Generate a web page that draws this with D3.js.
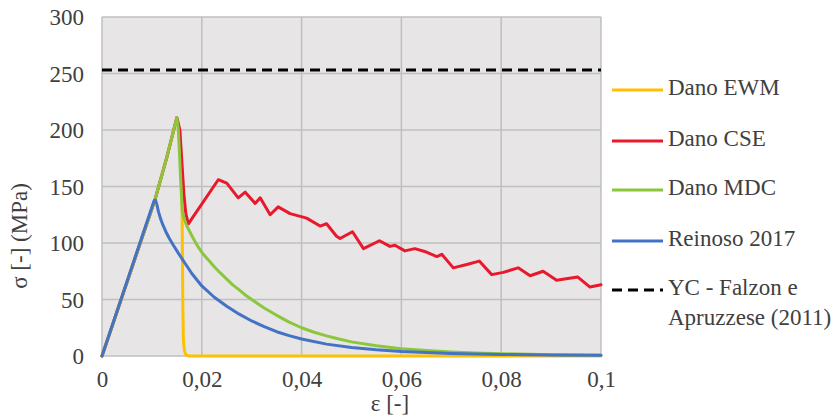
<!DOCTYPE html>
<html>
<head>
<meta charset="utf-8">
<script src="https://cdn.jsdelivr.net/npm/d3@7"></script>
<style>
  html, body { margin: 0; padding: 0; background: #fff; }
  svg { display: block; }
</style>
</head>
<body>
<svg id="stressStrain" width="839" height="419"></svg>
<script>
// Strain [-] / stress [MPa] pairs for each damage model
const ewmStrain = [0, 0.0106, 0.013, 0.015, 0.0156, 0.0160, 0.0161, 0.0162, 0.0163, 0.0165, 0.0168, 0.0175, 0.1];
const ewmStress = [0, 138, 176, 211, 198, 160, 100, 45, 15, 5, 1, 0, 0];

const cseStrain = [0, 0.0106, 0.013, 0.015, 0.0156, 0.0164, 0.0168, 0.0173, 0.0233, 0.025, 0.0273, 0.0287, 0.0307, 0.0317, 0.0337, 0.0353, 0.0377, 0.041, 0.0437, 0.045, 0.047, 0.0477, 0.0502, 0.0524, 0.0556, 0.0577, 0.0587, 0.0607, 0.0627, 0.065, 0.0671, 0.0681, 0.0704, 0.0731, 0.0756, 0.0781, 0.0804, 0.0834, 0.0858, 0.0884, 0.0911, 0.0953, 0.0978, 0.1];
const cseStress = [0, 138, 176, 211, 200, 144, 126, 117, 156, 153, 140, 145, 135, 140, 125, 132, 126, 122, 115, 117, 106, 104, 110, 95, 102, 97, 98, 93, 95, 92, 88, 90, 78, 81, 84, 72, 74, 78, 71, 75, 67, 70, 61, 63];

const mdcStrain = [0, 0.0106, 0.013, 0.015, 0.0153, 0.0155, 0.0158, 0.0161, 0.0165, 0.017, 0.0176, 0.0183, 0.0192, 0.0203, 0.0215, 0.0225, 0.0237, 0.025, 0.0262, 0.0275, 0.0287, 0.03, 0.0325, 0.035, 0.0375, 0.04, 0.0425, 0.045, 0.0475, 0.05, 0.055, 0.06, 0.065, 0.07, 0.075, 0.08, 0.09, 0.1];
const mdcStress = [0, 138, 176, 211, 200, 182, 153, 128, 121, 115, 110, 104, 97, 90, 84, 79, 73.5, 68, 63, 58.5, 54, 50, 42.5, 36, 30, 25, 21, 17.8, 15, 12.5, 9, 6.5, 4.8, 3.5, 2.6, 2, 1.2, 0.7];

const reinosoStrain = [0, 0.0104, 0.0107, 0.011, 0.0113, 0.0117, 0.0122, 0.0128, 0.0135, 0.0143, 0.0153, 0.0165, 0.018, 0.02, 0.0225, 0.025, 0.0275, 0.03, 0.0325, 0.035, 0.0375, 0.04, 0.045, 0.05, 0.055, 0.06, 0.07, 0.08, 0.09, 0.1];
const reinosoStress = [0, 137, 138, 134, 128, 122, 116, 110, 104, 98, 91, 83, 73, 62, 52, 44, 37, 31, 26, 21.5, 18, 15, 10.5, 7.5, 5.5, 4, 2.3, 1.4, 0.9, 0.6];

const ycStress = 253;

const xTicks = [0, 0.02, 0.04, 0.06, 0.08, 0.1];
const xTickLabels = ["0", "0,02", "0,04", "0,06", "0,08", "0,1"];
const yTicks = [0, 50, 100, 150, 200, 250, 300];

const seriesNames = ["Dano EWM", "Dano CSE", "Dano MDC", "Reinoso 2017"];
const seriesColors = ["#FFC000", "#E8192C", "#8CC63F", "#4472C4"];
const ycName = ["YC - Falzon e", "Apruzzese (2011)"];

const FONT = "Liberation Serif";
const TEXT_COLOR = "#404040";
const FONT_SIZE = 23;

// serif labels, set inline on every text element
function serif(sel) {
  return sel
    .attr("font-family", FONT)
    .attr("font-size", FONT_SIZE)
    .attr("fill", TEXT_COLOR)
    .style("font-family", FONT, "important")
    .style("font-size", FONT_SIZE + "px", "important");
}

const svg = d3.select("#stressStrain");
const plot = { left: 102, right: 601, top: 17, bottom: 356 };

const x = d3.scaleLinear().domain([0, 0.1]).range([plot.left, plot.right]);
const y = d3.scaleLinear().domain([0, 300]).range([plot.bottom, plot.top]);

// plot area
svg.append("rect")
  .attr("x", plot.left).attr("y", plot.top)
  .attr("width", plot.right - plot.left).attr("height", plot.bottom - plot.top)
  .attr("fill", "#E7E5E6");

// gridlines
const grid = svg.append("g").attr("stroke", "#BFBFBF").attr("stroke-width", 1.5);
yTicks.forEach(t => grid.append("line")
  .attr("x1", plot.left).attr("x2", plot.right)
  .attr("y1", y(t)).attr("y2", y(t)));
xTicks.forEach(t => grid.append("line")
  .attr("x1", x(t)).attr("x2", x(t))
  .attr("y1", plot.top).attr("y2", plot.bottom));

// axes
const yAxis = svg.append("g")
  .attr("transform", `translate(${plot.left - 18},0)`)
  .call(d3.axisLeft(y).tickValues(yTicks).tickSize(0).tickPadding(0));
yAxis.attr("font-family", FONT).attr("font-size", FONT_SIZE);
yAxis.select(".domain").remove();
serif(yAxis.selectAll("text")).attr("dy", "0.33em");

const xAxis = svg.append("g")
  .attr("transform", `translate(0,${plot.bottom + 14})`)
  .call(d3.axisBottom(x).tickValues(xTicks).tickFormat((d, i) => xTickLabels[i]).tickSize(0).tickPadding(0));
xAxis.attr("font-family", FONT).attr("font-size", FONT_SIZE);
xAxis.select(".domain").remove();
serif(xAxis.selectAll("text")).attr("dy", "0.75em");

// axis titles
serif(svg.append("text"))
  .attr("x", 390).attr("y", 406)
  .attr("text-anchor", "middle").attr("dominant-baseline", "middle")
  .text("ε [-]");
serif(svg.append("text"))
  .attr("transform", "translate(22,236) rotate(-90)")
  .attr("text-anchor", "middle").attr("dominant-baseline", "middle")
  .text("σ [-] (MPa)");

// series lines
const seriesData = [
  d3.zip(ewmStrain, ewmStress),
  d3.zip(cseStrain, cseStress),
  d3.zip(mdcStrain, mdcStress),
  d3.zip(reinosoStrain, reinosoStress)
];

const lines = svg.append("g").attr("fill", "none").attr("stroke-width", 3)
  .attr("stroke-linejoin", "round").attr("stroke-linecap", "round");
seriesData.forEach((pts, i) => {
  lines.append("path")
    .attr("d", d3.line().x(d => x(d[0])).y(d => y(d[1])).curve(d3.curveLinear)(pts))
    .attr("stroke", seriesColors[i]);
});

// yield criterion reference line
svg.append("line")
  .attr("x1", x(0)).attr("x2", x(0.1))
  .attr("y1", y(ycStress)).attr("y2", y(ycStress))
  .attr("stroke", "#000").attr("stroke-width", 3)
  .attr("stroke-dasharray", "10,6");

// legend
const legend = svg.append("g").attr("transform", "translate(612,0)");
const rowY = [90, 141, 190, 241];
seriesNames.forEach((name, i) => {
  legend.append("line")
    .attr("x1", 0).attr("x2", 51).attr("y1", rowY[i]).attr("y2", rowY[i])
    .attr("stroke", seriesColors[i]).attr("stroke-width", 3);
  serif(legend.append("text"))
    .attr("x", 56).attr("y", rowY[i])
    .attr("dominant-baseline", "middle")
    .text(name);
});
legend.append("line")
  .attr("x1", 0).attr("x2", 51).attr("y1", 290).attr("y2", 290)
  .attr("stroke", "#000").attr("stroke-width", 3)
  .attr("stroke-dasharray", "10,6");
ycName.forEach((t, i) => serif(legend.append("text"))
  .attr("x", 56).attr("y", 290 + i * 30)
  .attr("dominant-baseline", "middle")
  .text(t));
</script>
</body>
</html>
